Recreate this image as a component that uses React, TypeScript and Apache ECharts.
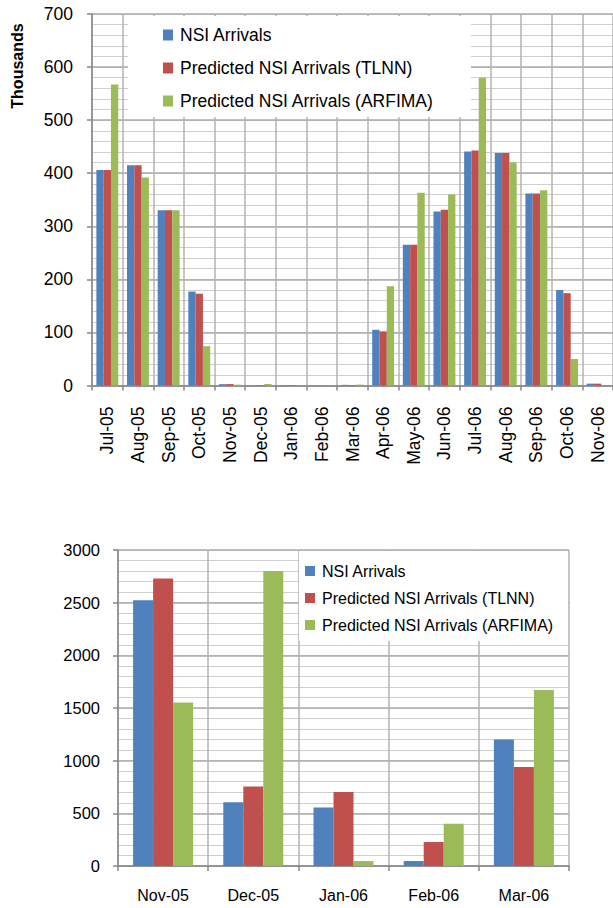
import React, { useEffect, useRef } from "react";
import * as echarts from "echarts";

const monthsTop = ["Jul-05", "Aug-05", "Sep-05", "Oct-05", "Nov-05", "Dec-05", "Jan-06", "Feb-06", "Mar-06", "Apr-06", "May-06", "Jun-06", "Jul-06", "Aug-06", "Sep-06", "Oct-06", "Nov-06"];
const nsiTop = [406, 415, 330, 177, 2.52, 0.61, 0.56, 0.05, 1.2, 105, 265, 328, 441, 438, 362, 180, 3.5];
const tlnnTop = [406, 415, 330, 173, 2.73, 0.76, 0.7, 0.23, 0.94, 102, 265, 331, 443, 438, 362, 174, 3.5];
const arfimaTop = [567, 392, 330, 74, 1.55, 2.8, 0.05, 0.4, 1.67, 187, 363, 360, 580, 420, 368, 50, 0];

const monthsBottom = ["Nov-05", "Dec-05", "Jan-06", "Feb-06", "Mar-06"];
const nsiBottom = [2524, 605, 556, 47, 1200];
const tlnnBottom = [2730, 755, 703, 228, 940];
const arfimaBottom = [1552, 2800, 47, 400, 1670];

const seriesNames = ["NSI Arrivals", "Predicted NSI Arrivals (TLNN)", "Predicted NSI Arrivals (ARFIMA)"];
const colors = ["#4F81BD", "#C0504D", "#9BBB59"];

const FONT = "Liberation Sans";
const AXIS = "#878787";
const MAJOR = "#ababab";
const MINOR = "#cfcfcf";

export default function App() {
  const ref = useRef<HTMLDivElement>(null);
  useEffect(() => {
    document.body.style.margin = "0";
    const chart = echarts.init(ref.current!, null, { renderer: "svg" });
    const yAxisMain = (fs: number, margin: number) => ({
      type: "value" as const,
      z: 1,
      axisLine: { show: true, lineStyle: { color: AXIS, width: 1.5 } },
      axisTick: { show: true, length: 5, lineStyle: { color: AXIS, width: 1.5 } },
      axisLabel: { color: "#000", fontFamily: FONT, fontSize: fs, margin, formatter: (v: number) => String(v) },
      splitLine: { show: true, lineStyle: { color: MAJOR, width: 1.5 } },
    });
    const yAxisMinor = {
      type: "value" as const,
      z: 0,
      axisLine: { show: false },
      axisTick: { show: false },
      axisLabel: { show: false },
      splitLine: { show: true, lineStyle: { color: MINOR, width: 1 } },
    };
    const xAxisCommon = {
      type: "category" as const,
      z: 1,
      axisLine: { show: true, lineStyle: { color: AXIS, width: 1.5 } },
      axisTick: { show: true, interval: 0, length: 5, lineStyle: { color: AXIS, width: 1.5 } },
      splitLine: { show: true, interval: 0, lineStyle: { color: "#b3b3b3", width: 1.5 } },
    };
    const mk = (name: string, data: number[], idx: number, color: string, bw: number) => ({
      type: "bar" as const,
      name,
      data,
      xAxisIndex: idx,
      yAxisIndex: idx,
      barWidth: bw,
      barGap: "0%",
      itemStyle: { color },
      z: 3,
    });
    chart.setOption({
      animation: false,
      color: colors,
      grid: [
        { left: 92, top: 14, width: 525, height: 371.5 },
        { left: 118, top: 550, width: 451, height: 316 },
      ],
      xAxis: [
        {
          ...xAxisCommon,
          gridIndex: 0,
          data: monthsTop,
          axisLabel: { color: "#000", fontFamily: FONT, fontSize: 17.5, rotate: 90, interval: 0, margin: 21 },
        },
        {
          ...xAxisCommon,
          gridIndex: 1,
          data: monthsBottom,
          axisLabel: { color: "#000", fontFamily: FONT, fontSize: 16, interval: 0, margin: 21 },
        },
      ],
      yAxis: [
        { ...yAxisMain(17.5, 19), gridIndex: 0, min: 0, max: 700, interval: 100 },
        { ...yAxisMain(16.5, 18), gridIndex: 1, min: 0, max: 3000, interval: 500 },
        { ...yAxisMinor, gridIndex: 0, min: 0, max: 700, interval: 20 },
        { ...yAxisMinor, gridIndex: 1, min: 0, max: 3000, interval: 100 },
      ],
      legend: [
        {
          data: seriesNames,
          orient: "vertical",
          left: 163,
          top: 25,
          padding: 0,
          itemWidth: 10,
          itemHeight: 11,
          itemGap: 13,
          icon: "rect",
          selectedMode: false,
          textStyle: { color: "#000", fontFamily: FONT, fontSize: 17.5, lineHeight: 20, padding: [0, 0, 0, 2] },
          z: 6,
        },
        {
          data: seriesNames,
          orient: "vertical",
          left: 305,
          top: 562,
          padding: 0,
          itemWidth: 10,
          itemHeight: 10,
          itemGap: 9,
          icon: "rect",
          selectedMode: false,
          textStyle: { color: "#000", fontFamily: FONT, fontSize: 16, lineHeight: 18, padding: [0, 0, 0, 2] },
          z: 6,
        },
      ],
      graphic: [
        { type: "rect", z: 2, shape: { x: 128, y: 16, width: 343, height: 101 }, style: { fill: "#fff" } },
        { type: "rect", z: 2, shape: { x: 299, y: 551, width: 269, height: 90 }, style: { fill: "#fff" } },
        {
          type: "text",
          x: 17,
          y: 66,
          rotation: Math.PI / 2,
          style: {
            text: "Thousands",
            fontFamily: FONT,
            fontSize: 16,
            fontWeight: "bold",
            fill: "#000",
            textAlign: "center",
            textVerticalAlign: "middle",
          },
        },
      ],
      series: [
        mk(seriesNames[0], nsiTop, 0, colors[0], 7.3),
        mk(seriesNames[1], tlnnTop, 0, colors[1], 7.3),
        mk(seriesNames[2], arfimaTop, 0, colors[2], 7.3),
        mk(seriesNames[0], nsiBottom, 1, colors[0], 20),
        mk(seriesNames[1], tlnnBottom, 1, colors[1], 20),
        mk(seriesNames[2], arfimaBottom, 1, colors[2], 20),
      ],
    });
    return () => chart.dispose();
  }, []);
  return <div ref={ref} style={{ width: 613, height: 908 }} />;
}
